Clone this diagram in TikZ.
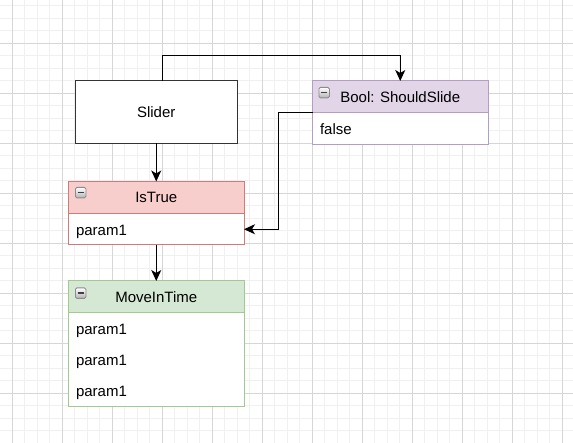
\documentclass[tikz,border=0pt]{standalone}
\usepackage{fontspec}
\setmainfont{Liberation Sans}
\usetikzlibrary{arrows.meta}
\definecolor{redF}{HTML}{F8CECC}
\definecolor{redS}{HTML}{D07B78}
\definecolor{grnF}{HTML}{D5E8D4}
\definecolor{grnS}{HTML}{A3C98C}
\definecolor{purF}{HTML}{E1D5E7}
\definecolor{purS}{HTML}{B49DC2}
\definecolor{gridMinor}{HTML}{F0F0F0}
\definecolor{gridMajor}{HTML}{D6D6D6}
\tikzset{
  box/.style={rectangle, anchor=north west, inner sep=0pt, outer sep=0pt,
    line width=1pt, font=\fontsize{15}{18}\selectfont, text=black},
  hdr/.style={box, minimum height=32pt},
  ptext/.style={anchor=base west, inner sep=0pt, outer sep=0pt,
    font=\fontsize{15}{18}\selectfont, text=black},
  collapse/.style={rectangle, anchor=north west, minimum size=10.5pt,
    inner sep=0pt, rounded corners=1.5pt, draw=black!45, line width=0.8pt,
    top color=white, bottom color=black!30,
    path picture={\draw[line width=1.5pt, black!75]
      ([xshift=-3pt]path picture bounding box.center) --
      ([xshift=3pt]path picture bounding box.center);}},
  arr/.style={line width=1.25pt, black,
    -{Stealth[length=11pt, width=10pt, inset=3pt]}},
  gminor/.style={gridMinor, line width=1pt},
  gmajor/.style={gridMajor, line width=1pt}
}
\begin{document}
\begin{tikzpicture}[x=1pt, y=-1pt]
\useasboundingbox (0,0) rectangle (573,443);
\fill[white] (0,0) rectangle (573,443);
% grid
\foreach \x in {-0.2,12.3,...,573} {\draw[gminor] (\x,0) -- (\x,443);}
\foreach \y in {-6.7,5.8,...,443} {\draw[gminor] (0,\y) -- (573,\y);}
\foreach \x in {12.3,62.3,...,573} {\draw[gmajor] (\x,0) -- (\x,443);}
\foreach \y in {43.3,93.3,...,443} {\draw[gmajor] (0,\y) -- (573,\y);}

% Slider
\node[box, draw=black!80, fill=white, minimum width=162.5pt,
  minimum height=62.5pt] (slider) at (75,81) {\raisebox{-1pt}{Slider}};

% Bool: ShouldSlide
\node[hdr, draw=purS, fill=purF, minimum width=175.5pt] (boolh) at (312.5,81) {Bool: ShouldSlide};
\node[box, draw=purS, fill=white, minimum width=175.5pt, minimum height=31.5pt] (boolb) at (312.5,113) {};
\node[ptext] (tfalse) at (320,134.8) {false};
\node[collapse] (ic1) at ([shift={(6,6)}]boolh.north west) {};

% IsTrue
\node[hdr, draw=redS, fill=redF, minimum width=175.5pt] (ist) at (68.5,181.5) {IsTrue};
\node[box, draw=redS, fill=white, minimum width=175.5pt, minimum height=31.5pt] (istb) at (68.5,213.5) {};
\node[ptext] (tp0) at (76,235.2) {param1};
\node[collapse] (ic2) at ([shift={(6.5,5.5)}]ist.north west) {};

% MoveInTime
\node[hdr, draw=grnS, fill=grnF, minimum width=175.5pt] (mit) at (68.5,281) {MoveInTime};
\node[box, draw=grnS, fill=white, minimum width=175.5pt, minimum height=93.5pt] (mitb) at (68.5,313) {};
\node[ptext] (tp1) at (76,334.8) {param1};
\node[ptext] (tp2) at (76,365.8) {param1};
\node[ptext] (tp3) at (76,396.8) {param1};
\node[collapse] (ic3) at ([shift={(6.5,6.5)}]mit.north west) {};

% connectors
\coordinate (b1) at (162.7,55.7);
\coordinate (b2) at (278.3,112.75);
\draw[arr] (slider.north -| b1) -- (b1) -| (boolh.north);
\draw[arr] (b2 -| boolb.west) -- (b2) |- (istb.east);
\draw[arr] (slider.south) -- (ist.north);
\draw[arr] (istb.south) -- (mit.north);
\end{tikzpicture}
\end{document}
